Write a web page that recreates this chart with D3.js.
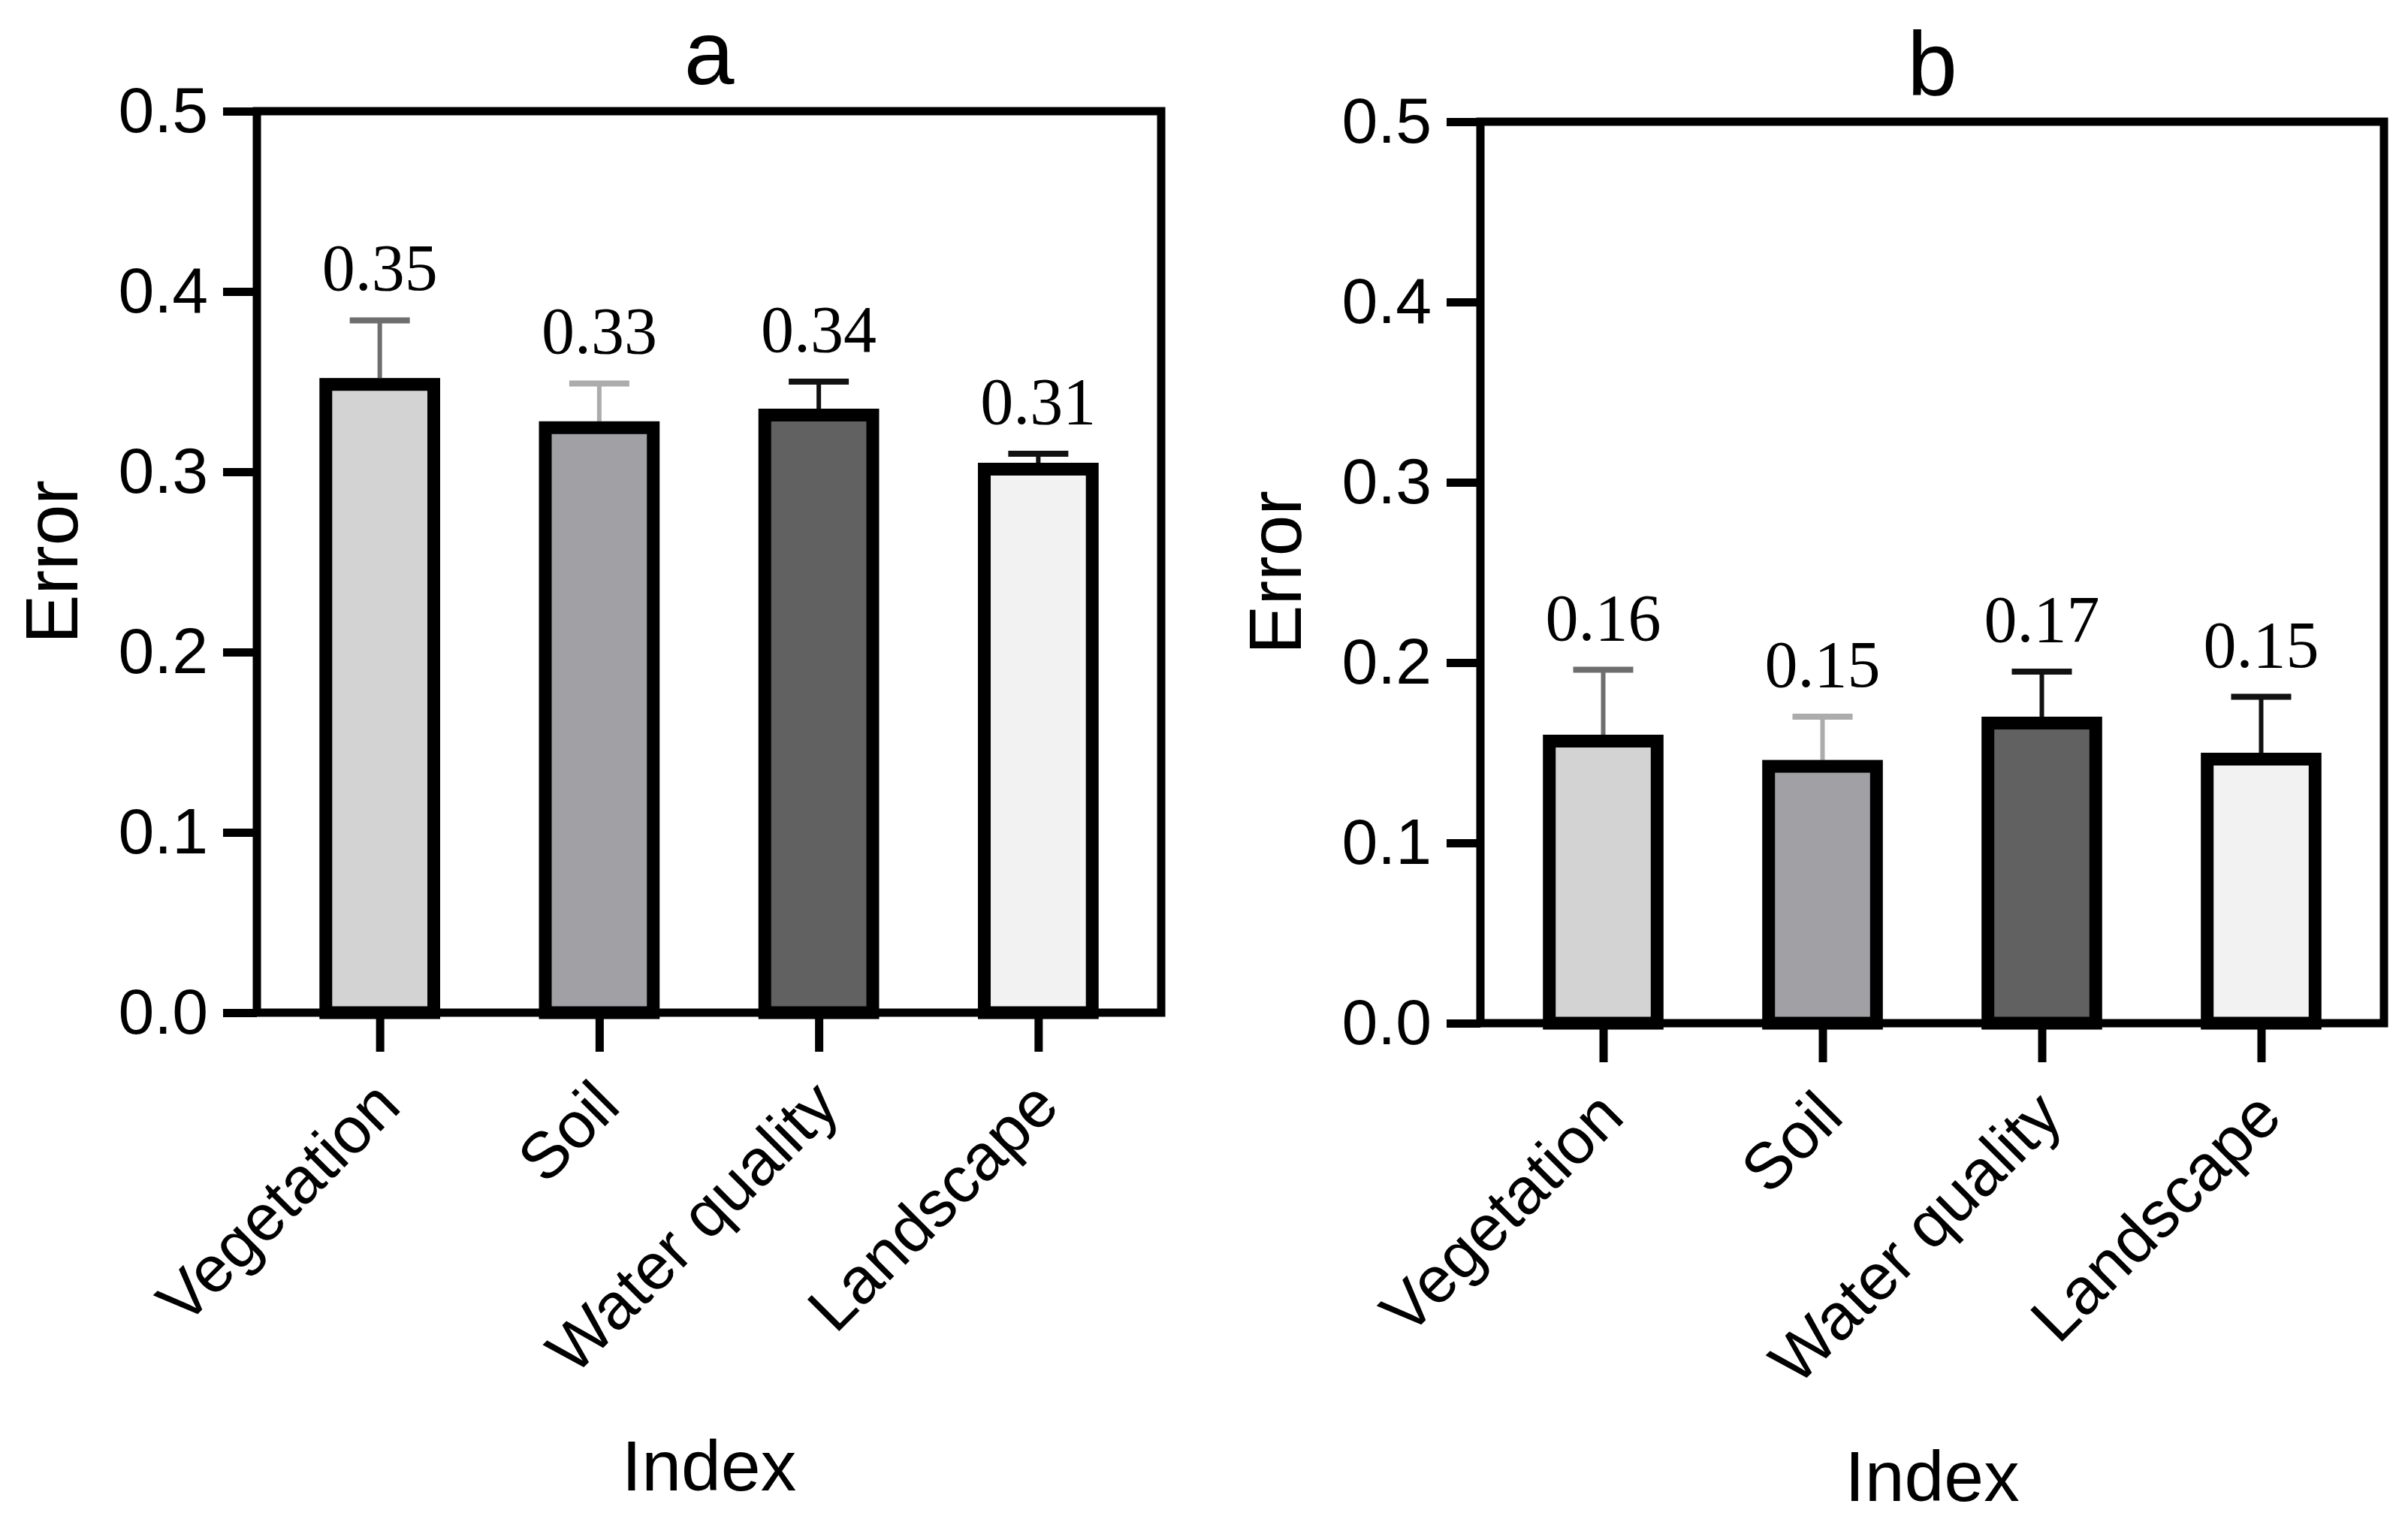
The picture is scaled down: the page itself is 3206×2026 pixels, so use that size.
<!DOCTYPE html>
<html><head><meta charset="utf-8">
<script src="https://cdn.jsdelivr.net/npm/d3@7"></script>
<style>html,body{margin:0;padding:0;background:#fff;}</style>
</head><body>
<svg id="chart" width="3206" height="2026" xmlns="http://www.w3.org/2000/svg"></svg>
<script>
// ---- data ----
const categories = ["Vegetation", "Soil", "Water quality", "Landscape"];
const meansA  = [0.352, 0.328, 0.335, 0.305];
const errorsA = [0.032, 0.021, 0.015, 0.005];
const labelsA = ["0.35", "0.33", "0.34", "0.31"];
const meansB  = [0.160, 0.146, 0.170, 0.150];
const errorsB = [0.036, 0.024, 0.025, 0.031];
const labelsB = ["0.16", "0.15", "0.17", "0.15"];
const yTicks = [0, 0.1, 0.2, 0.3, 0.4, 0.5];
const yTickLabels = ["0.0", "0.1", "0.2", "0.3", "0.4", "0.5"];
const barColors = ["#d3d3d3", "#a1a0a5", "#616161", "#f2f2f2"];
const errColors = ["#6e6e6e", "#acacac", "#111111", "#111111"];
const panelTitles = ["a", "b"];
const yTitle = "Error";
const xTitle = "Index";

// ---- layout ----
const SANS = "'Liberation Sans', Arial, Helvetica, sans-serif";
const SERIF = "'Liberation Serif', 'Times New Roman', serif";
const layouts = [
  {left: 342, right: 1546, top: 148, bottom: 1348},
  {left: 1971, right: 3174, top: 162, bottom: 1362}
];
const svg = d3.select("#chart");
svg.append("rect").attr("width", 3206).attr("height", 2026).attr("fill", "#fff");

function drawPanel(L, means, errs, labels, title) {
  const g = svg.append("g");
  const x = d3.scalePoint().domain(categories).range([L.left, L.right]).padding(0.56);
  const y = d3.scaleLinear().domain([0, 0.5]).range([L.bottom, L.top]);
  const bw = x.step() * 0.55, sw = 17, capW = 80;

  // error bars (drawn under bars)
  const eg = g.append("g");
  categories.forEach((c, i) => {
    eg.append("line")
      .attr("x1", x(c)).attr("x2", x(c))
      .attr("y1", y(means[i])).attr("y2", y(means[i] + errs[i]))
      .attr("stroke", errColors[i]).attr("stroke-width", 6);
    eg.append("line")
      .attr("x1", x(c) - capW / 2).attr("x2", x(c) + capW / 2)
      .attr("y1", y(means[i] + errs[i])).attr("y2", y(means[i] + errs[i]))
      .attr("stroke", errColors[i]).attr("stroke-width", 8);
  });

  // bars (border inside)
  g.selectAll("rect.bar").data(categories).join("rect")
    .attr("class", "bar")
    .attr("x", d => x(d) - bw / 2 + sw / 2)
    .attr("width", bw - sw)
    .attr("y", (d, i) => y(means[i]) + sw / 2)
    .attr("height", (d, i) => y(0) - y(means[i]) - sw / 2)
    .attr("fill", (d, i) => barColors[i])
    .attr("stroke", "#000").attr("stroke-width", sw);

  // value labels
  g.selectAll("text.val").data(categories).join("text")
    .attr("class", "val")
    .attr("x", d => x(d))
    .attr("y", (d, i) => y(means[i] + errs[i]) - 40)
    .attr("text-anchor", "middle")
    .attr("font-family", SERIF).attr("font-size", 88)
    .attr("fill", "#000")
    .text((d, i) => labels[i]);

  // frame
  g.append("rect")
    .attr("x", L.left).attr("y", L.top)
    .attr("width", L.right - L.left).attr("height", L.bottom - L.top)
    .attr("fill", "none").attr("stroke", "#000").attr("stroke-width", 11);

  // y axis
  const ya = g.append("g").attr("transform", `translate(${L.left},0)`)
    .call(d3.axisLeft(y).tickValues(yTicks)
      .tickFormat((d, i) => yTickLabels[i]).tickSize(45).tickPadding(20));
  ya.select(".domain").remove();
  ya.selectAll(".tick line").attr("stroke", "#000").attr("stroke-width", 11);
  ya.selectAll(".tick text").attr("font-family", SANS).attr("font-size", 86).attr("fill", "#000");

  // x axis
  const xa = g.append("g").attr("transform", `translate(0,${L.bottom})`)
    .call(d3.axisBottom(x).tickSize(52).tickFormat(""));
  xa.select(".domain").remove();
  xa.selectAll(".tick line").attr("stroke", "#000").attr("stroke-width", 11);

  g.selectAll("text.cat").data(categories).join("text")
    .attr("class", "cat")
    .attr("transform", d => `translate(${x(d) + 31},${L.bottom + 128}) rotate(-45)`)
    .attr("text-anchor", "end")
    .attr("font-family", SANS).attr("font-size", 87).attr("fill", "#000")
    .text(d => d);

  // titles
  const cx = (L.left + L.right) / 2;
  g.append("text").attr("x", cx).attr("y", L.top - 36)
    .attr("text-anchor", "middle").attr("font-family", SANS).attr("font-size", 120)
    .text(title);
  g.append("text").attr("x", cx).attr("y", L.bottom + 636)
    .attr("text-anchor", "middle").attr("font-family", SANS).attr("font-size", 95)
    .text(xTitle);
  g.append("text")
    .attr("transform", `translate(${L.left - 239},${(L.top + L.bottom) / 2}) rotate(-90)`)
    .attr("text-anchor", "middle").attr("font-family", SANS).attr("font-size", 98)
    .text(yTitle);
}

drawPanel(layouts[0], meansA, errorsA, labelsA, panelTitles[0]);
drawPanel(layouts[1], meansB, errorsB, labelsB, panelTitles[1]);
</script>
</body></html>
